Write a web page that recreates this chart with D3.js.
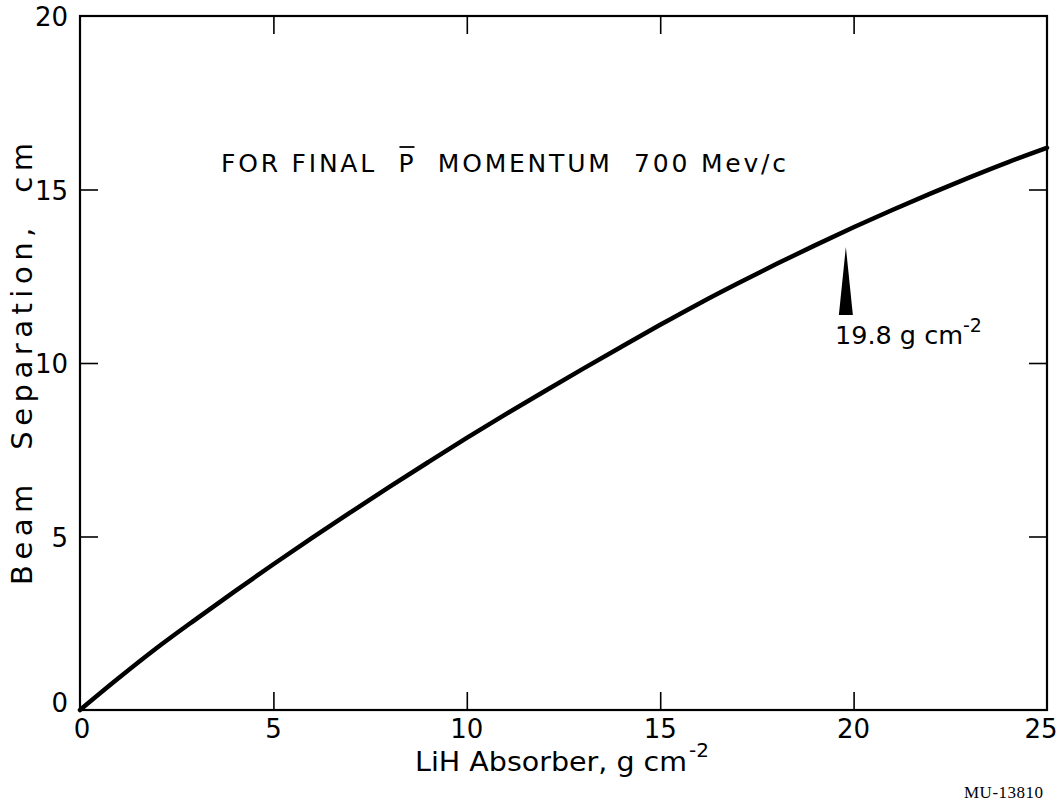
<!DOCTYPE html>
<html><head><meta charset="utf-8">
<script src="https://cdn.jsdelivr.net/npm/d3@7"></script>
<style>body{margin:0;background:#fff}svg{display:block}text{white-space:pre}</style>
</head><body>
<svg id="chart" width="1060" height="806"></svg>
<script>
const absorber = [0,1,2,3,4,5,6,7,8,9,10,11,12,13,14,15,16,17,18,19,20,21,22,23,24,25];
const separation = [0,0.92,1.8,2.62,3.42,4.2,4.96,5.7,6.43,7.14,7.84,8.52,9.18,9.83,10.47,11.1,11.71,12.29,12.85,13.39,13.91,14.41,14.89,15.35,15.79,16.2];
const xTicks = [0,5,10,15,20,25];
const yTicks = [0,5,10,15,20];
const marker = {x:19.8, label:"19.8 g cm", sup:"-2"};
const titleText = "FOR FINAL  P  MOMENTUM  700 Mev/c";

const svg = d3.select("#chart");
const L=80,R=1047,T=16,B=710;
const x = d3.scaleLinear().domain([0,25]).range([L,R]);
const y = d3.scaleLinear().domain([0,20]).range([B,T]);
const font = "'DejaVu Sans', 'Liberation Sans', sans-serif";
const tl = 18;

const g = svg.append("g");
g.append("g").attr("transform",`translate(0,${B})`)
  .call(d3.axisBottom(x).tickValues(xTicks.slice(1,-1)).tickSizeInner(-tl).tickSizeOuter(0).tickFormat(""))
  .call(s=>s.select(".domain").remove());
g.append("g").attr("transform",`translate(0,${T})`)
  .call(d3.axisTop(x).tickValues(xTicks.slice(1,-1)).tickSizeInner(-tl).tickSizeOuter(0).tickFormat(""))
  .call(s=>s.select(".domain").remove());
g.append("g").attr("transform",`translate(${L},0)`)
  .call(d3.axisLeft(y).tickValues(yTicks.slice(1,-1)).tickSizeInner(-tl).tickSizeOuter(0).tickFormat(""))
  .call(s=>s.select(".domain").remove());
g.append("g").attr("transform",`translate(${R},0)`)
  .call(d3.axisRight(y).tickValues(yTicks.slice(1,-1)).tickSizeInner(-tl).tickSizeOuter(0).tickFormat(""))
  .call(s=>s.select(".domain").remove());
g.selectAll(".tick line").attr("stroke","#000").attr("stroke-width",1.6);

svg.append("rect").attr("x",L).attr("y",T).attr("width",R-L).attr("height",B-T)
  .attr("fill","none").attr("stroke","#000").attr("stroke-width",2.2);

// tick labels
svg.append("g").selectAll("text").data(xTicks).join("text")
  .attr("x",d=>x(d)+(d===0?2:d===25?-6:0)).attr("y",B+28).attr("text-anchor","middle")
  .attr("font-family",font).attr("font-size",26).text(d=>d);
svg.append("g").selectAll("text").data(yTicks).join("text")
  .attr("x",L-12).attr("y",d=>y(d)+(d===0?2:10)).attr("text-anchor","end")
  .attr("font-family",font).attr("font-size",26).text(d=>d);

// axis titles
svg.append("text").attr("x",415).attr("y",771).attr("font-family",font).attr("font-size",26)
  .attr("textLength",272).attr("lengthAdjust","spacingAndGlyphs").text("LiH Absorber, g cm");
svg.append("text").attr("x",689).attr("y",757).attr("font-family",font).attr("font-size",20).text("-2");

svg.append("text").attr("transform","translate(32,585) rotate(-90)")
  .attr("font-family",font).attr("font-size",29)
  .attr("textLength",442).attr("lengthAdjust","spacing").text("Beam  Separation,  cm");

// curve
const line = d3.line().x((d,i)=>x(absorber[i])).y(d=>y(d)).curve(d3.curveMonotoneX);
svg.append("path").datum(separation).attr("d",line).attr("fill","none")
  .attr("stroke","#000").attr("stroke-width",4.5).attr("stroke-linecap","round");

// annotation title with overlined P
const tt = svg.append("text").attr("x",221).attr("y",172).attr("font-family",font).attr("font-size",25)
  .attr("textLength",565).attr("lengthAdjust","spacing").text(titleText);
const pi = titleText.indexOf("P");
const p0 = tt.node().getStartPositionOfChar(pi).x;
svg.append("line").attr("x1",p0+1).attr("x2",p0+16).attr("y1",147).attr("y2",147)
  .attr("stroke","#000").attr("stroke-width",1.8);

// wedge marker
const mx = x(marker.x);
svg.append("path").attr("d",`M${mx},247 L${mx-7},315 L${mx+7},315 Z`).attr("fill","#000");
svg.append("text").attr("x",835).attr("y",344).attr("font-family",font).attr("font-size",24)
  .attr("textLength",128).attr("lengthAdjust","spacingAndGlyphs").text(marker.label);
svg.append("text").attr("x",963).attr("y",332).attr("font-family",font).attr("font-size",19).text(marker.sup);

svg.append("text").attr("x",964).attr("y",798).attr("font-family","'Liberation Serif', serif")
  .attr("font-size",17).attr("letter-spacing",0.5).text("MU-13810");
</script>
</body></html>
